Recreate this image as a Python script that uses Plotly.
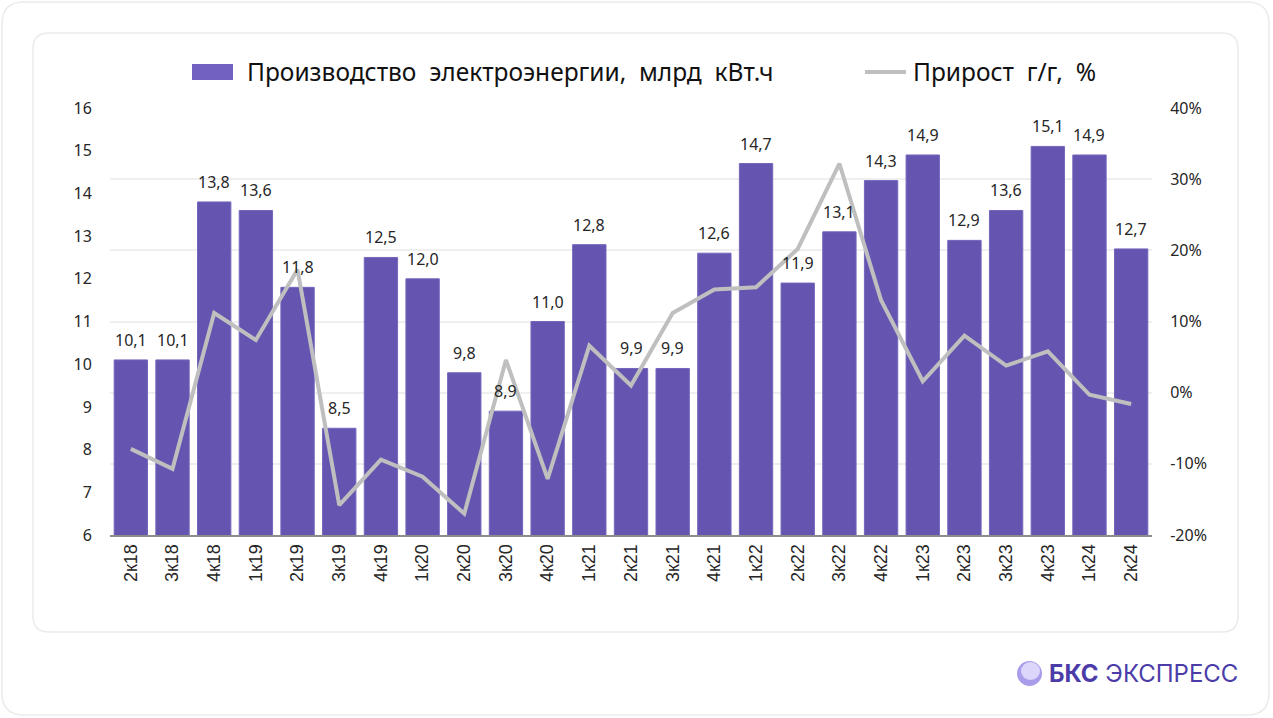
import plotly.graph_objects as go

# chart data
quarters = ['2к18', '3к18', '4к18', '1к19', '2к19', '3к19', '4к19', '1к20', '2к20', '3к20',
            '4к20', '1к21', '2к21', '3к21', '4к21', '1к22', '2к22', '3к22', '4к22', '1к23',
            '2к23', '3к23', '4к23', '1к24', '2к24']
production = [10.1, 10.1, 13.8, 13.6, 11.8, 8.5, 12.5, 12.0, 9.8, 8.9,
              11.0, 12.8, 9.9, 9.9, 12.6, 14.7, 11.9, 13.1, 14.3, 14.9,
              12.9, 13.6, 15.1, 14.9, 12.7]
growth = [-0.079, -0.107, 0.112, 0.074, 0.173, -0.158, -0.094, -0.118, -0.170, 0.046,
          -0.121, 0.066, 0.010, 0.112, 0.145, 0.148, 0.202, 0.322, 0.130, 0.016,
          0.080, 0.038, 0.058, -0.003, -0.016]
pct_ticks = [-0.2, -0.1, 0.0, 0.1, 0.2, 0.3, 0.4]
pct_labels = ['-20%', '-10%', '0%', '10%', '20%', '30%', '40%']
bar_name = 'Производство  электроэнергии,  млрд  кВт.ч'
line_name = 'Прирост  г/г,  %'

W, H = 1273, 718
L, R, T, B = 110, 121, 108, 183
PW, PH = W - L - R, H - T - B
FONT = 'Noto Sans, Open Sans, sans-serif'
BAR_COLOR = '#6554B0'
LINE_COLOR = '#BFBFBF'


def px(x):
    return (x - L) / PW


def py(y):
    return (H - B - y) / PH


def rounded_rect(x0, y0, x1, y1, r):
    # pixel coords -> paper path with rounded corners
    a0, a1 = px(x0), px(x1)
    b0, b1 = py(y0), py(y1)
    rx, ry = r / PW, r / PH
    return (f'M{a0 + rx},{b0} L{a1 - rx},{b0} Q{a1},{b0} {a1},{b0 - ry} '
            f'L{a1},{b1 + ry} Q{a1},{b1} {a1 - rx},{b1} L{a0 + rx},{b1} '
            f'Q{a0},{b1} {a0},{b1 + ry} L{a0},{b0 - ry} Q{a0},{b0} {a0 + rx},{b0} Z')


labels = [f'{v:.1f}'.replace('.', ',') for v in production]

fig = go.Figure()
fig.add_trace(go.Bar(x=quarters, y=production, name=bar_name,
                     marker=dict(color=BAR_COLOR, line=dict(color='#7566BC', width=1))))
fig.add_trace(go.Scatter(x=quarters, y=growth, name=line_name, yaxis='y2', mode='lines',
                         line=dict(color=LINE_COLOR, width=4)))

shapes = [
    dict(type='path', xref='paper', yref='paper', path=rounded_rect(2, 2, 1269, 715, 22),
         line=dict(color='#EBEBEB', width=1.5), layer='below'),
    dict(type='path', xref='paper', yref='paper', path=rounded_rect(33, 33, 1238, 632, 16),
         line=dict(color='#EBEBEB', width=1.5), layer='below'),
    # manual legend
    dict(type='rect', xref='paper', yref='paper', x0=px(192), x1=px(233), y0=py(80), y1=py(64),
         fillcolor='#7261C0', line=dict(width=0)),
    dict(type='line', xref='paper', yref='paper', x0=px(865), x1=px(906), y0=py(72), y1=py(72),
         line=dict(color=LINE_COLOR, width=4)),
    # logo circle
    dict(type='circle', xref='paper', yref='paper', x0=px(1017), x1=px(1042), y0=py(686), y1=py(661),
         fillcolor='#A99DEB', line=dict(width=0)),
    dict(type='circle', xref='paper', yref='paper', x0=px(1021), x1=px(1040), y0=py(680), y1=py(662),
         fillcolor='#DCD7FA', line=dict(width=0)),
]

annotations = [
    dict(text=bar_name, x=px(245), y=py(72), xref='paper', yref='paper', xanchor='left',
         yanchor='middle', showarrow=False, font=dict(size=24.5, color='#111111', family=FONT)),
    dict(text=line_name, x=px(911), y=py(72), xref='paper', yref='paper', xanchor='left',
         yanchor='middle', showarrow=False, font=dict(size=24.5, color='#111111', family=FONT)),
    dict(text='<b>БКС</b> ЭКСПРЕСС', x=px(1240), y=py(673), xref='paper', yref='paper',
         xanchor='right', yanchor='middle', showarrow=False,
         font=dict(size=24, color='#4B3CA8', family='Inter, Noto Sans, sans-serif')),
]
# value labels above bars
for q, v, t in zip(quarters, production, labels):
    annotations.append(dict(x=q, y=v, text=t, xref='x', yref='y', yanchor='bottom',
                            showarrow=False, yshift=7,
                            font=dict(size=16, color='#262626', family=FONT)))

fig.update_layout(
    width=W, height=H,
    margin=dict(l=L, r=R, t=T, b=B),
    paper_bgcolor='white', plot_bgcolor='white',
    showlegend=False,
    bargap=0.2,
    font=dict(family=FONT, size=16, color='#262626'),
    xaxis=dict(tickangle=-90, showline=True, linecolor='#8C8C8C', linewidth=2,
               ticks='', tickfont=dict(size=18, color='#262626', family='Liberation Sans, Arial')),
    yaxis=dict(range=[6, 16], dtick=1, showgrid=False, zeroline=False,
               ticks='outside', ticklen=14, tickcolor='rgba(0,0,0,0)',
               tickfont=dict(size=16, color='#262626')),
    yaxis2=dict(overlaying='y', side='right', range=[-0.2, 0.4], tickvals=pct_ticks,
                ticktext=pct_labels, showgrid=True, gridcolor='#EFEFEF', gridwidth=1.5,
                zeroline=False, ticks='outside', ticklen=14, tickcolor='rgba(0,0,0,0)',
                tickfont=dict(size=16, color='#262626')),
    shapes=shapes,
    annotations=annotations,
)

fig.write_html('out.html', config={'displayModeBar': False},
               post_script="document.body.style.margin='0';")
